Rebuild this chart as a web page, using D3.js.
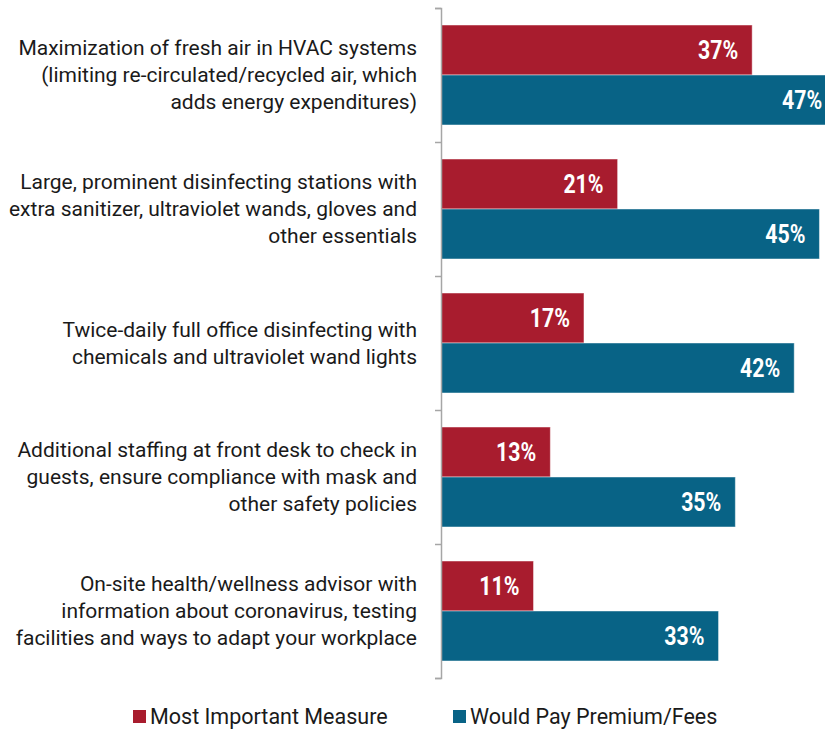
<!DOCTYPE html>
<html>
<head>
<meta charset="utf-8">
<script src="https://cdn.jsdelivr.net/npm/d3@7"></script>
<style>
  body { margin: 0; background: #fff; }
  svg { display: block; }
</style>
</head>
<body>
<script>
// Data
const categories = [
  ["Maximization of fresh air in HVAC systems", "(limiting re-circulated/recycled air, which", "adds energy expenditures)"],
  ["Large, prominent disinfecting stations with", "extra sanitizer, ultraviolet wands, gloves and", "other essentials"],
  ["Twice-daily full office disinfecting with", "chemicals and ultraviolet wand lights"],
  ["Additional staffing at front desk to check in", "guests, ensure compliance with mask and", "other safety policies"],
  ["On-site health/wellness advisor with", "information about coronavirus, testing", "facilities and ways to adapt your workplace"]
];
const seriesNames = ["Most Important Measure", "Would Pay Premium/Fees"];
const mostImportant = [37, 21, 17, 13, 11];
const wouldPay = [47, 45, 42, 35, 33];
const colors = ["#a81c2e", "#086386"];

const w = 825, h = 729;
const axisX = 441;

const svg = d3.select("body").append("svg")
  .attr("width", w)
  .attr("height", h);

const idx = d3.range(categories.length);

const y = d3.scaleBand()
  .domain(idx)
  .range([8, 678])
  .paddingInner(0.254)
  .paddingOuter(0.127);

const x = d3.scaleLinear()
  .domain([0, 50])
  .range([axisX, axisX + 8.41 * 50]);

const sub = d3.scaleBand()
  .domain([0, 1])
  .range([0, y.bandwidth()]);

const rows = idx.map(i => ({i: i, vals: [mostImportant[i], wouldPay[i]]}));

// bars
const g = svg.selectAll("g.cat")
  .data(rows)
  .enter().append("g")
    .attr("class", "cat")
    .attr("transform", d => "translate(0," + y(d.i) + ")");

g.selectAll("rect")
  .data(d => d.vals.map((v, s) => ({v: v, s: s})))
  .enter().append("rect")
    .attr("x", x(0))
    .attr("y", d => sub(d.s))
    .attr("width", d => x(d.v) - x(0))
    .attr("height", sub.bandwidth())
    .attr("fill", d => colors[d.s])
    .attr("stroke", "rgba(255,255,255,0.45)")
    .attr("stroke-width", 1);

// value labels (condensed look via horizontal scale)
g.selectAll("text.val")
  .data(d => d.vals.map((v, s) => ({v: v, s: s})))
  .enter().append("text")
    .attr("class", "val")
    .attr("transform", d => "translate(" + (x(d.v) - 14) + "," + (sub(d.s) + sub.bandwidth() / 2) + ") scale(0.82,1)")
    .attr("dy", "0.36em")
    .attr("text-anchor", "end")
    .attr("fill", "#fff")
    .style("font-family", "Roboto, sans-serif")
    .style("font-weight", "bold")
    .style("font-size", "26px")
    .text(d => d.v + "%");

// axis: vertical line with ticks at category boundaries
const axisY = d3.scaleLinear().domain([0, categories.length]).range([8, 678]);
svg.append("g")
  .attr("transform", "translate(" + axisX + ",0)")
  .call(d3.axisLeft(axisY).ticks(categories.length).tickSize(6).tickFormat(""))
  .call(a => a.select(".domain").attr("stroke", "#a6a6a6").attr("stroke-width", 1.5))
  .call(a => a.selectAll(".tick line").attr("stroke", "#a6a6a6").attr("stroke-width", 1.5));

// category labels
const lineH = 27;
svg.selectAll("text.cat")
  .data(rows)
  .enter().append("text")
    .attr("class", "cat")
    .attr("text-anchor", "end")
    .attr("fill", "#1a1a1a")
    .style("font-family", "Roboto, sans-serif")
    .style("font-size", "21px")
    .each(function(d) {
      const lines = categories[d.i];
      const cy = y(d.i) + y.bandwidth() / 2;
      const top = cy - (lines.length - 1) * lineH / 2;
      d3.select(this).selectAll("tspan")
        .data(lines)
        .enter().append("tspan")
          .attr("x", 417)
          .attr("y", (l, k) => top + k * lineH)
          .attr("dy", "0.35em")
          .text(l => l);
    });

// legend
const legendX = [133, 453];
const legend = svg.selectAll("g.legend")
  .data(seriesNames)
  .enter().append("g")
    .attr("class", "legend")
    .attr("transform", (d, s) => "translate(" + legendX[s] + ",710)");
legend.append("rect")
  .attr("width", 13)
  .attr("height", 13)
  .attr("fill", (d, s) => colors[s]);
legend.append("text")
  .attr("x", 17)
  .attr("y", 14)
  .attr("fill", "#1a1a1a")
  .style("font-family", "Roboto, sans-serif")
  .style("font-size", "21.5px")
  .text(d => d);
</script>
</body>
</html>
